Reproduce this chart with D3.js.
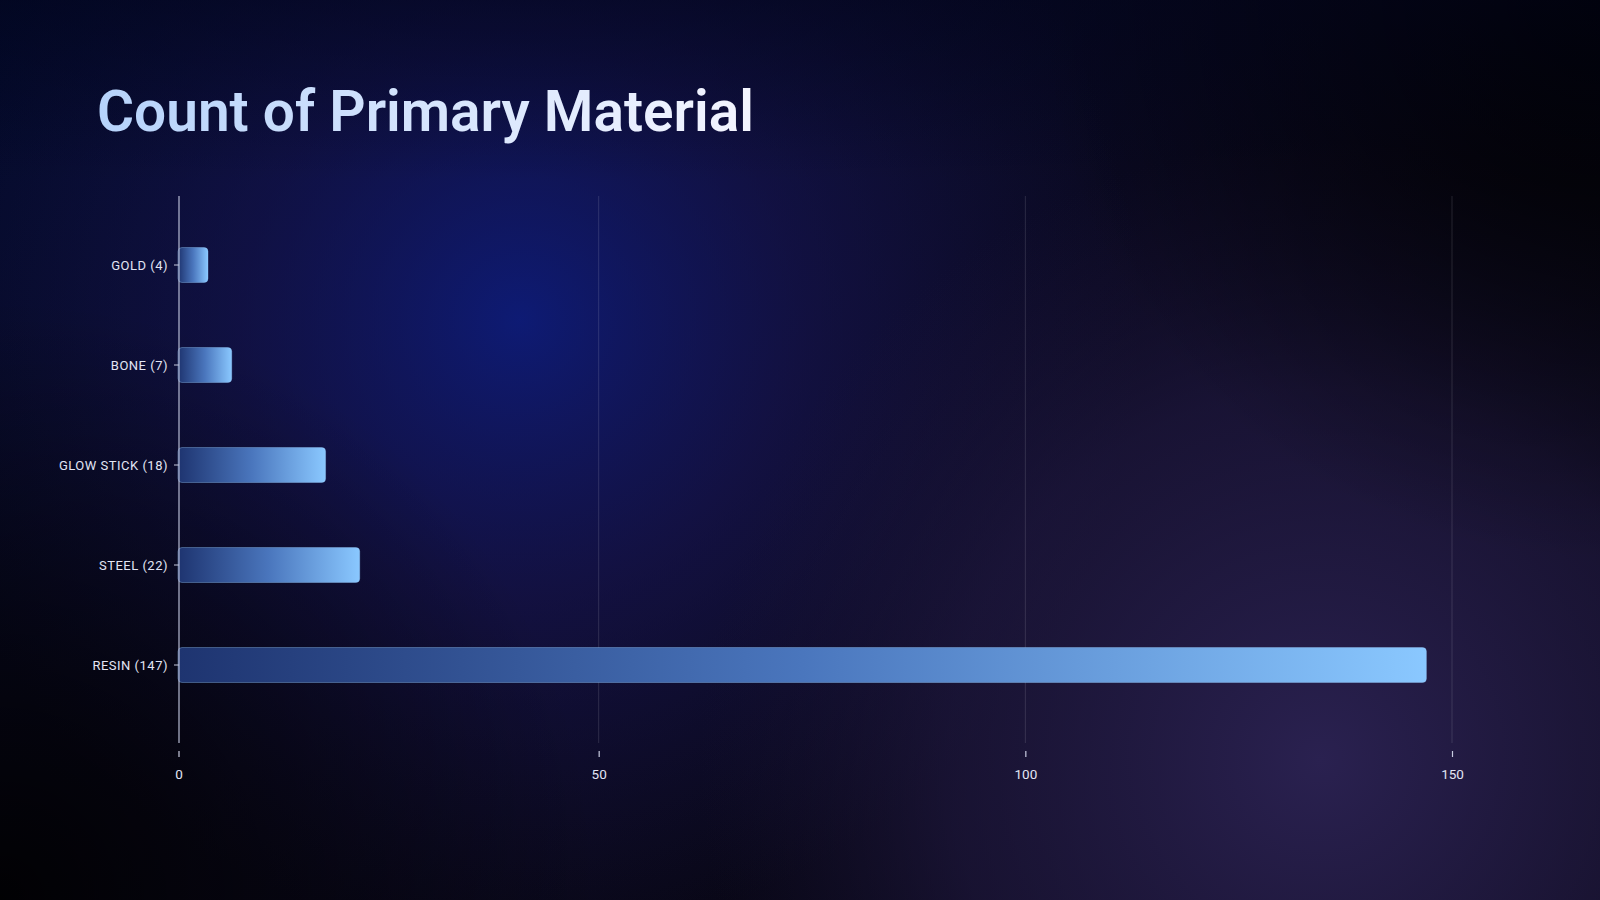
<!DOCTYPE html>
<html>
<head>
<meta charset="utf-8">
<script src="https://cdn.jsdelivr.net/npm/d3@7/dist/d3.min.js"></script>
<style>
  html, body { margin: 0; padding: 0; background: #05060f; }
  svg { display: block; }
</style>
</head>
<body>
<script>
const categories = ["GOLD", "BONE", "GLOW STICK", "STEEL", "RESIN"];
const counts = [4, 7, 18, 22, 147];
const xTicks = [0, 50, 100, 150];
const title = "Count of Primary Material";

const W = 1600, H = 900;
const svg = d3.select("body").append("svg").attr("width", W).attr("height", H);
const defs = svg.append("defs");

// Background
const bgLin = defs.append("linearGradient").attr("id", "bgLin")
  .attr("x1", "0").attr("y1", "0").attr("x2", "1").attr("y2", "1");
bgLin.append("stop").attr("offset", "0").attr("stop-color", "#020a2c");
bgLin.append("stop").attr("offset", "0.5").attr("stop-color", "#0b0920");
bgLin.append("stop").attr("offset", "1").attr("stop-color", "#06050c");

const g1 = defs.append("radialGradient").attr("id", "glowBlue")
  .attr("gradientUnits", "userSpaceOnUse").attr("cx", 520).attr("cy", 320).attr("r", 620);
g1.append("stop").attr("offset", "0").attr("stop-color", "#0f1f88").attr("stop-opacity", 0.8);
g1.append("stop").attr("offset", "0.45").attr("stop-color", "#1a1860").attr("stop-opacity", 0.5);
g1.append("stop").attr("offset", "1").attr("stop-color", "#1a1850").attr("stop-opacity", 0);

const g2 = defs.append("radialGradient").attr("id", "glowPurple")
  .attr("gradientUnits", "userSpaceOnUse").attr("cx", 1320).attr("cy", 760).attr("r", 620);
g2.append("stop").attr("offset", "0").attr("stop-color", "#2a2150").attr("stop-opacity", 1);
g2.append("stop").attr("offset", "0.6").attr("stop-color", "#221a44").attr("stop-opacity", 0.6);
g2.append("stop").attr("offset", "1").attr("stop-color", "#1a1438").attr("stop-opacity", 0);

const g3 = defs.append("radialGradient").attr("id", "darkCorner")
  .attr("gradientUnits", "userSpaceOnUse").attr("cx", 1600).attr("cy", 0).attr("r", 560);
g3.append("stop").attr("offset", "0").attr("stop-color", "#000000").attr("stop-opacity", 1);
g3.append("stop").attr("offset", "1").attr("stop-color", "#000000").attr("stop-opacity", 0);

const g4 = defs.append("radialGradient").attr("id", "darkBL")
  .attr("gradientUnits", "userSpaceOnUse").attr("cx", 0).attr("cy", 900).attr("r", 600);
g4.append("stop").attr("offset", "0").attr("stop-color", "#000000").attr("stop-opacity", 0.9);
g4.append("stop").attr("offset", "1").attr("stop-color", "#000000").attr("stop-opacity", 0);

const g5 = defs.append("linearGradient").attr("id", "topShade")
  .attr("x1", "0").attr("y1", "0").attr("x2", "0").attr("y2", "1");
g5.append("stop").attr("offset", "0").attr("stop-color", "#02041a").attr("stop-opacity", 0.55);
g5.append("stop").attr("offset", "0.2").attr("stop-color", "#02041a").attr("stop-opacity", 0);

svg.append("rect").attr("width", W).attr("height", H).attr("fill", "url(#bgLin)");
svg.append("rect").attr("width", W).attr("height", H).attr("fill", "url(#glowBlue)");
svg.append("rect").attr("width", W).attr("height", H).attr("fill", "url(#glowPurple)");
svg.append("rect").attr("width", W).attr("height", H).attr("fill", "url(#darkCorner)");
svg.append("rect").attr("width", W).attr("height", H).attr("fill", "url(#darkBL)");
svg.append("rect").attr("width", W).attr("height", H).attr("fill", "url(#topShade)");

// Title
const tg = defs.append("linearGradient").attr("id", "titleGrad")
  .attr("gradientUnits", "userSpaceOnUse").attr("x1", 98).attr("x2", 755).attr("y1", 0).attr("y2", 0);
tg.append("stop").attr("offset", "0").attr("stop-color", "#b6d3fb");
tg.append("stop").attr("offset", "1").attr("stop-color", "#f4f5ff");
svg.append("text").text(title)
  .attr("x", 97).attr("y", 131)
  .attr("font-family", "Roboto, sans-serif").attr("font-weight", 600)
  .attr("font-size", 58)
  .attr("textLength", 657).attr("lengthAdjust", "spacingAndGlyphs")
  .attr("fill", "url(#titleGrad)");

// Scales
const x = d3.scaleLinear().domain([0, 150]).range([172, 1452]);
const y = d3.scaleBand().domain(categories).range([215, 715]).paddingInner(0.65).paddingOuter(0.325);
const axisX = x(0) + 7;   // baseline offset of the value axis

// Grid lines
svg.append("g").selectAll("line").data(xTicks.filter(d => d !== 0)).join("line")
  .attr("x1", d => x(d)).attr("x2", d => x(d))
  .attr("y1", 196).attr("y2", 743)
  .attr("stroke", "#ffffff").attr("stroke-opacity", 0.13).attr("stroke-width", 1);

// Bar gradient
const bg = defs.append("linearGradient").attr("id", "barGrad")
  .attr("x1", "0").attr("x2", "1").attr("y1", "0").attr("y2", "0");
bg.append("stop").attr("offset", "0").attr("stop-color", "#1e3470");
bg.append("stop").attr("offset", "0.5").attr("stop-color", "#4a76bd");
bg.append("stop").attr("offset", "1").attr("stop-color", "#8ac8ff");

// Bars
svg.append("g").selectAll("rect").data(categories).join("rect")
  .attr("x", axisX - 1)
  .attr("y", d => y(d))
  .attr("width", (d, i) => Math.max(x(counts[i]) - axisX + 1, 30))
  .attr("height", y.bandwidth())
  .attr("rx", 4).attr("ry", 4)
  .attr("fill", "url(#barGrad)")
  .attr("stroke", "#9ccfff").attr("stroke-opacity", 0.35).attr("stroke-width", 1);

// Y axis
const yAxis = d3.axisLeft(y).tickSize(5).tickPadding(6)
  .tickFormat((d, i) => `${d} (${counts[i]})`);
const yg = svg.append("g").attr("transform", `translate(${axisX},0)`).call(yAxis);
yg.select(".domain").remove();
yg.selectAll(".tick line").attr("stroke", "#c8cce0").attr("stroke-width", 1);
yg.selectAll(".tick text")
  .attr("fill", "#e2e5f4").attr("font-family", "Roboto, sans-serif")
  .attr("font-weight", 400).attr("font-size", 13).attr("letter-spacing", 0.5)
  .attr("dy", "0.36em");
svg.append("line").attr("x1", axisX).attr("x2", axisX).attr("y1", 196).attr("y2", 743)
  .attr("stroke", "#b8bcd4").attr("stroke-width", 1.2);

// X axis
const xAxis = d3.axisBottom(x).tickValues(xTicks).tickSize(6).tickPadding(12).tickFormat(d3.format("d"));
const xg = svg.append("g").attr("transform", "translate(0,751)").call(xAxis);
xg.select(".domain").remove();
xg.selectAll(".tick").filter(d => d === 0).attr("transform", `translate(${axisX},0)`);
xg.selectAll(".tick line").attr("stroke", "#c8cce0").attr("stroke-width", 1.2);
xg.selectAll(".tick text")
  .attr("fill", "#e2e5f4").attr("font-family", "Roboto, sans-serif")
  .attr("font-weight", 400).attr("font-size", 13.5);
</script>
</body>
</html>
